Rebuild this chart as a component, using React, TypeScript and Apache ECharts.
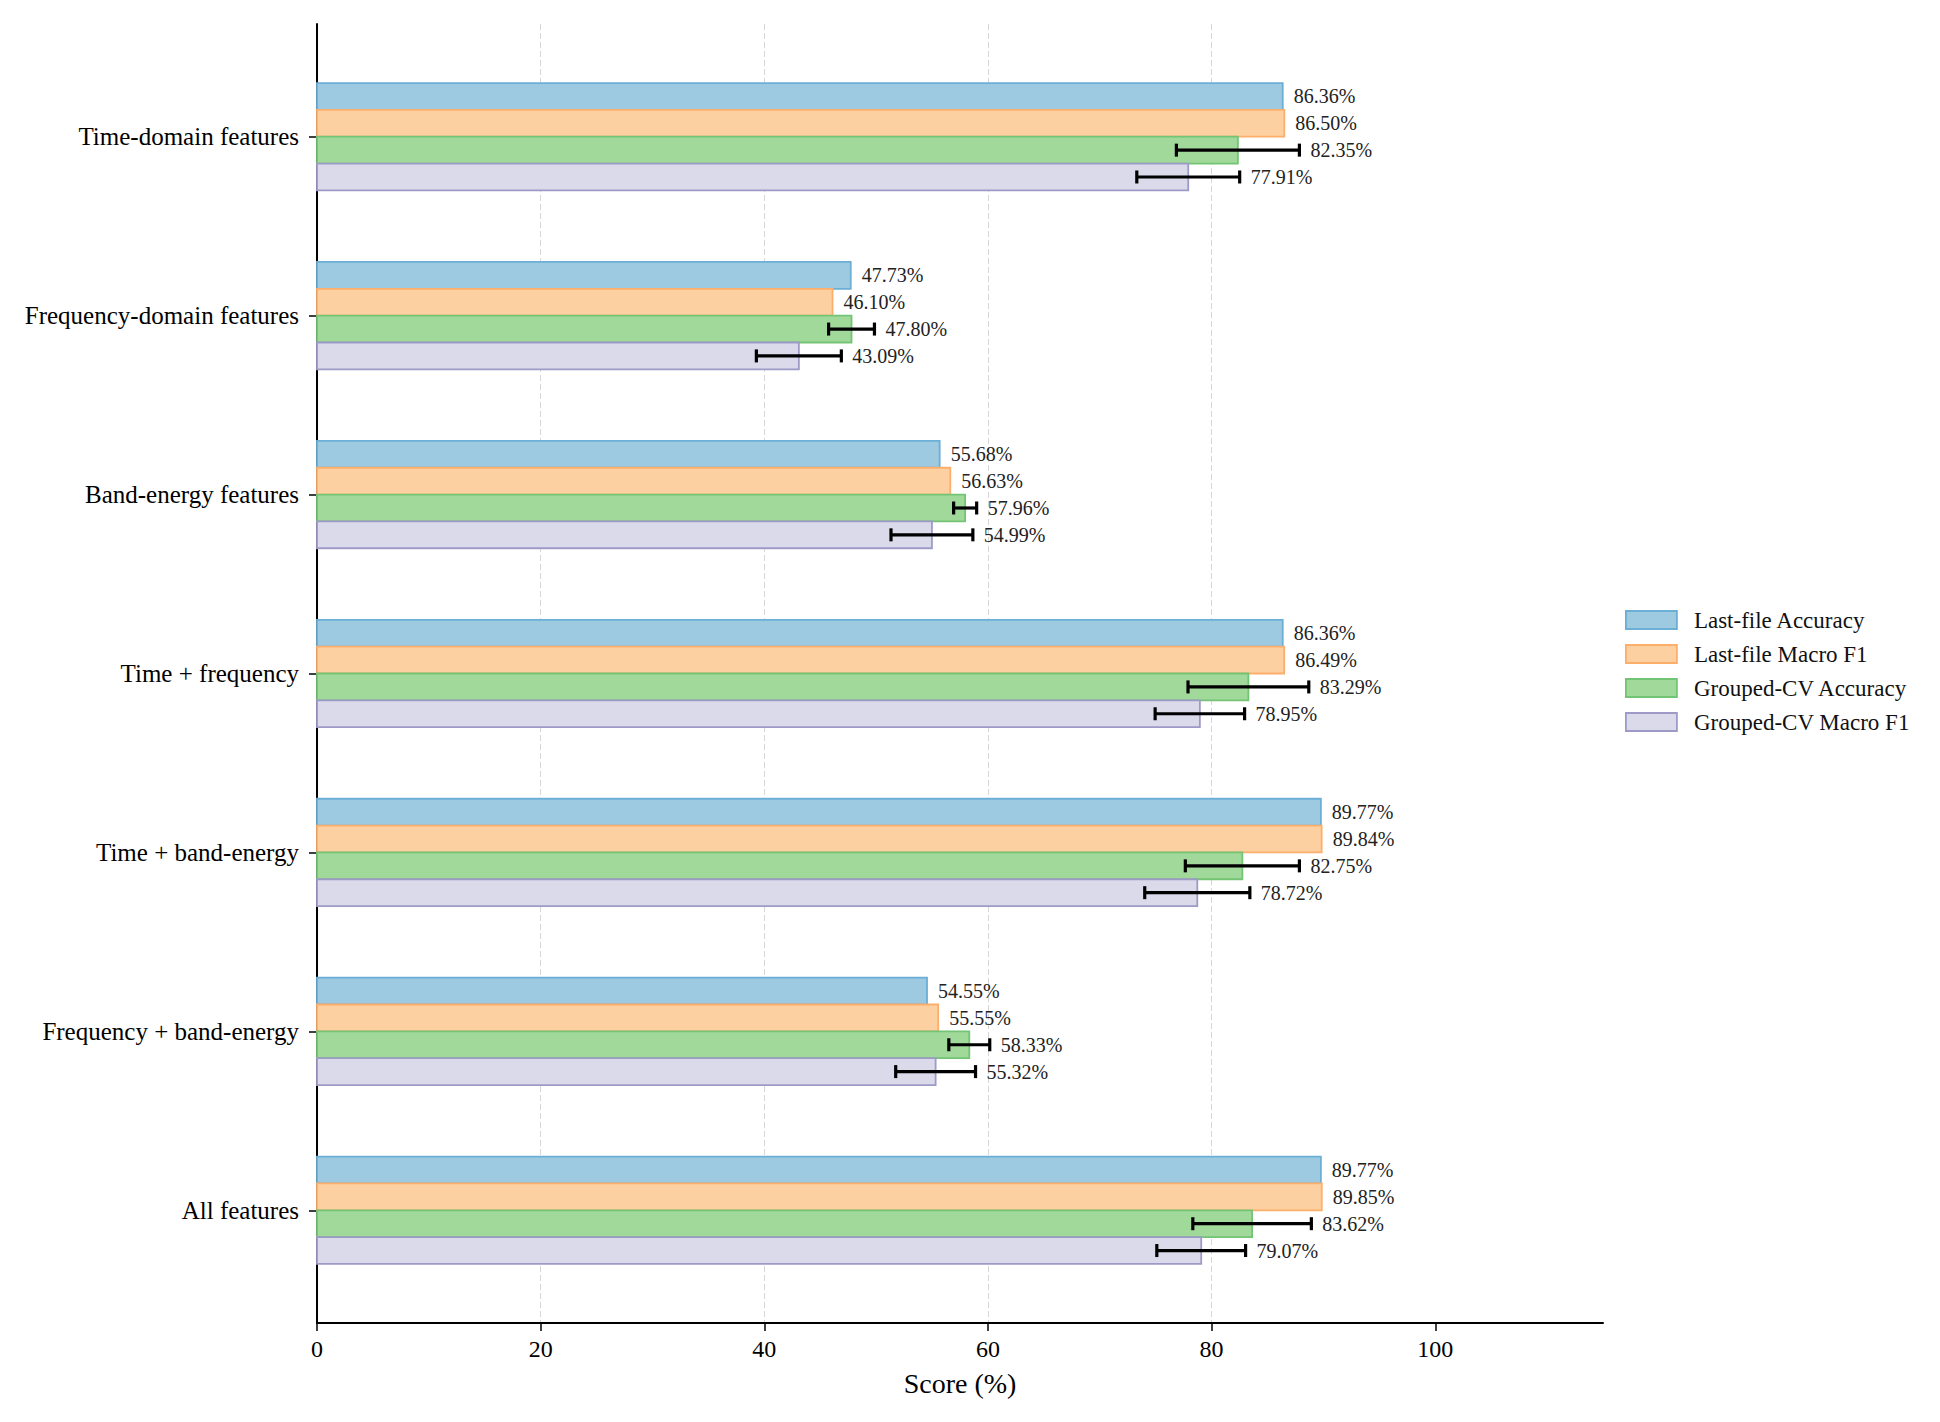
import React, { useEffect, useRef } from "react";
import * as echarts from "echarts";

const categories = [
  "Time-domain features",
  "Frequency-domain features",
  "Band-energy features",
  "Time + frequency",
  "Time + band-energy",
  "Frequency + band-energy",
  "All features",
];
const seriesNames = [
  "Last-file Accuracy",
  "Last-file Macro F1",
  "Grouped-CV Accuracy",
  "Grouped-CV Macro F1",
];
const lastFileAcc = [86.36, 47.73, 55.68, 86.36, 89.77, 54.55, 89.77];
const lastFileF1 = [86.5, 46.1, 56.63, 86.49, 89.84, 55.55, 89.85];
const cvAcc = [82.35, 47.8, 57.96, 83.29, 82.75, 58.33, 83.62];
const cvAccStd = [5.5, 2.05, 1.03, 5.4, 5.1, 1.83, 5.3];
const cvF1 = [77.91, 43.09, 54.99, 78.95, 78.72, 55.32, 79.07];
const cvF1Std = [4.6, 3.8, 3.66, 4.0, 4.7, 3.57, 3.97];
const xTicks = [0, 20, 40, 60, 80, 100];

const fills = ["#9ecae1", "#fdd0a2", "#a1d99b", "#dadaeb"];
const edges = ["#6baed6", "#fdae6b", "#74c476", "#9e9ac8"];
const FONT = "'Liberation Serif', 'Times New Roman', 'DejaVu Serif', serif";
const BAR_H = 0.15;

export default function App() {
  const ref = useRef<HTMLDivElement>(null);
  useEffect(() => {
    if (!ref.current) return;
    const chart = echarts.init(ref.current, undefined, { renderer: "svg" });
    const values = [lastFileAcc, lastFileF1, cvAcc, cvF1];
    const errs = [null, null, cvAccStd, cvF1Std];

    const makeRender = (si: number) => (params: any, api: any) => {
      const cat = api.value(0);
      const val = api.value(1);
      const err = api.value(2);
      const yc = cat + (si - 1.5) * BAR_H;
      const p0 = api.coord([0, yc]);
      const p1 = api.coord([val, yc]);
      const h = Math.abs(api.size([0, BAR_H])[1]);
      const children: any[] = [
        {
          type: "rect",
          shape: { x: p0[0], y: p0[1] - h / 2, width: p1[0] - p0[0], height: h },
          style: { fill: fills[si], stroke: edges[si], lineWidth: 1.8 },
        },
      ];
      let labelX = p1[0];
      if (err > 0) {
        const a = api.coord([val - err, yc]);
        const b = api.coord([val + err, yc]);
        const cap = 6.5;
        const es = { stroke: "#000", lineWidth: 3.2 };
        children.push(
          { type: "line", shape: { x1: a[0], y1: a[1], x2: b[0], y2: b[1] }, style: es },
          { type: "line", shape: { x1: a[0], y1: a[1] - cap, x2: a[0], y2: a[1] + cap }, style: es },
          { type: "line", shape: { x1: b[0], y1: b[1] - cap, x2: b[0], y2: b[1] + cap }, style: es }
        );
        labelX = Math.max(labelX, b[0]);
      }
      children.push({
        type: "text",
        style: {
          text: val.toFixed(2) + "%",
          x: labelX + 11,
          y: p1[1],
          align: "left",
          verticalAlign: "middle",
          fontSize: 20,
          fontFamily: FONT,
          fill: "#222",
        },
      });
      return { type: "group", children };
    };

    const series = seriesNames.map((name, si) => ({
      name,
      type: "custom",
      renderItem: makeRender(si),
      itemStyle: { color: fills[si], borderColor: edges[si] },
      encode: { x: 1, y: 0 },
      data: categories.map((_, ci) => [ci, values[si][ci], errs[si] ? (errs[si] as number[])[ci] : 0]),
      z: 2 + si,
    }));

    chart.setOption({
      animation: false,
      backgroundColor: "#ffffff",
      textStyle: { fontFamily: FONT },
      grid: { left: 317, top: 24, width: 1286, height: 1299, outerBoundsMode: "none" },
      legend: {
        orient: "vertical",
        left: 1620,
        top: 603,
        itemWidth: 51,
        itemHeight: 18,
        itemGap: 10,
        icon: "rect",
        textStyle: { fontSize: 23, fontFamily: FONT, color: "#111", lineHeight: 24, padding: [0, 0, 0, 12] },
        data: seriesNames.map((name, si) => ({
          name,
          itemStyle: { color: fills[si], borderColor: edges[si], borderWidth: 1.8 },
        })),
      },
      xAxis: {
        type: "value",
        min: 0,
        max: 115,
        interval: 20,
        name: "Score (%)",
        nameLocation: "middle",
        nameGap: 46,
        nameTextStyle: { fontSize: 28, fontFamily: FONT, color: "#000" },
        axisLine: { show: true, onZero: false, lineStyle: { color: "#000", width: 2 } },
        axisTick: { show: true, length: 8, lineStyle: { color: "#000", width: 1.5 }, customValues: xTicks },
        axisLabel: { fontSize: 24, fontFamily: FONT, color: "#000", margin: 14, customValues: xTicks },
        splitLine: {
          show: true,
          showMinLine: false,
          showMaxLine: false,
          lineStyle: { color: "#d6d6d6", width: 1, type: [6, 3] },
        },
      },
      yAxis: {
        type: "value",
        inverse: true,
        min: -0.63,
        max: 6.63,
        axisLine: { show: true, onZero: false, lineStyle: { color: "#000", width: 2 } },
        axisTick: {
          show: true,
          length: 8,
          lineStyle: { color: "#000", width: 1.5 },
          customValues: categories.map((_, i) => i),
        },
        axisLabel: {
          fontSize: 25,
          fontFamily: FONT,
          color: "#000",
          margin: 18,
          customValues: categories.map((_, i) => i),
          formatter: (v: number) => categories[Math.round(v)] ?? "",
        },
        splitLine: { show: false },
      },
      series,
    });
    return () => chart.dispose();
  }, []);
  return (
    <div
      ref={ref}
      style={{ position: "absolute", left: 0, top: 0, width: 1940, height: 1422, background: "#fff" }}
    />
  );
}
